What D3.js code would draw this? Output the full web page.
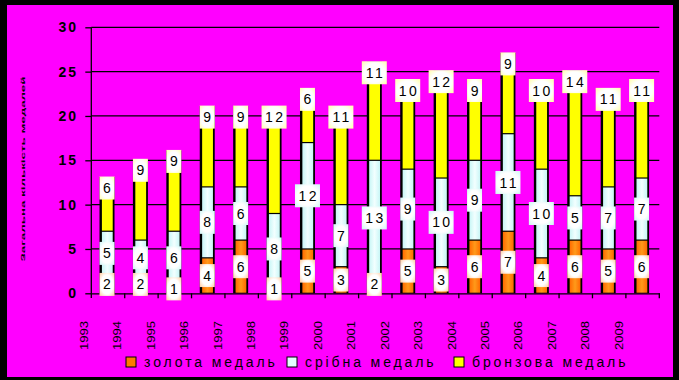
<!DOCTYPE html>
<html lang="uk">
<head>
<meta charset="utf-8">
<script src="https://d3js.org/d3.v7.min.js"></script>
<style>
body { margin: 0; background: #000; }
svg text { font-family: "Liberation Sans", Arial, sans-serif; fill: #000; }
</style>
</head>
<body>
<script>
// data
var years = ["1993","1994","1995","1996","1997","1998","1999","2000","2001","2002","2003","2004","2005","2006","2007","2008","2009"];
var gold = [2, 2, 1, 4, 6, 1, 5, 3, 2, 5, 3, 6, 7, 4, 6, 5, 6];
var silver = [5, 4, 6, 8, 6, 8, 12, 7, 13, 9, 10, 9, 11, 10, 5, 7, 7];
var bronze = [6, 9, 9, 9, 9, 12, 6, 11, 11, 10, 12, 9, 9, 10, 14, 11, 11];
var yTicks = [0, 5, 10, 15, 20, 25, 30];
var seriesNames = ["золота медаль", "срібна медаль", "бронзова медаль"];
var yTitle = "Загальна кількість медалей";

var width = 679, height = 380;

var svg = d3.select("body").append("svg")
  .attr("width", width)
  .attr("height", height);

// gradients
var defs = svg.append("defs");
function hGrad(id, edge, mid) {
  var g = defs.append("linearGradient").attr("id", id);
  g.append("stop").attr("offset", "0%").attr("stop-color", edge);
  g.append("stop").attr("offset", "50%").attr("stop-color", mid);
  g.append("stop").attr("offset", "100%").attr("stop-color", edge);
}
hGrad("gGold", "#ff6a00", "#ff9a1a");
hGrad("gSilver", "#c8f6f6", "#f2ffff");
hGrad("gBronze", "#ffff00", "#ffff00");
function rGrad(id, edge) {
  var g = defs.append("radialGradient").attr("id", id).attr("r", "75%");
  g.append("stop").attr("offset", "0%").attr("stop-color", "#ffffff");
  g.append("stop").attr("offset", "55%").attr("stop-color", "#ffffff");
  g.append("stop").attr("offset", "100%").attr("stop-color", edge);
}
rGrad("lGold", "#ffc08a");
rGrad("lSilver", "#c6f4f4");
rGrad("lBronze", "#ffff9a");

var barFills = ["url(#gGold)", "url(#gSilver)", "url(#gBronze)"];
var labelFills = ["url(#lGold)", "url(#lSilver)", "url(#lBronze)"];
var legendFills = ["#ff7a00", "#e4ffff", "#ffff00"];

// frame
svg.append("rect").attr("width", width).attr("height", height).attr("fill", "#000");
svg.append("rect").attr("x", 7).attr("y", 5).attr("width", 666).attr("height", 372).attr("fill", "#ff00ff");

var x = d3.scaleBand().domain(years).range([91.3, 659.3]);
var y = d3.scaleLinear().domain([0, 30]).range([293.3, 27.3]);
var bw = x.bandwidth();
var barW = 15;
function cx(yr) { return x(yr) + bw / 2 - 1; }

// gridlines
svg.append("g").selectAll("line")
  .data(yTicks.slice(1))
  .enter().append("line")
  .attr("x1", 91.3).attr("x2", 659.3)
  .attr("y1", function(d) { return y(d); })
  .attr("y2", function(d) { return y(d); })
  .attr("stroke", "#000").attr("stroke-width", 1.3);

// y axis
var yAxis = d3.axisLeft(y).tickValues(yTicks).tickSize(6).tickPadding(10).tickSizeOuter(0);
var gy = svg.append("g").attr("transform", "translate(91.3,0)").call(yAxis);
gy.select(".domain").remove();
gy.selectAll("line").attr("stroke", "#000").attr("stroke-width", 1.3);
gy.selectAll("text")
  .attr("font-size", 14)
  .attr("font-weight", "bold")
  .attr("letter-spacing", "2px")
  .attr("x", -13.3)
  .style("font-family", "'Liberation Sans', Arial, sans-serif");
svg.append("line").attr("x1", 91.3).attr("x2", 91.3).attr("y1", 27.3).attr("y2", 298)
  .attr("stroke", "#000").attr("stroke-width", 1.3);

// x axis line and ticks at band edges
var xAxis = d3.axisBottom(x).tickSize(5).tickFormat("").tickSizeOuter(0);
var gx = svg.append("g").attr("transform", "translate(0,293.3)").call(xAxis);
gx.select(".domain").attr("stroke", "#000").attr("stroke-width", 1.3);
gx.selectAll(".tick line")
  .attr("transform", "translate(" + (bw / 2) + ",0)")
  .attr("stroke", "#000").attr("stroke-width", 1.3);

// stacked bars
var rows = years.map(function(yr, i) {
  return { year: yr, gold: gold[i], silver: silver[i], bronze: bronze[i] };
});
var stack = d3.stack().keys(["gold", "silver", "bronze"]);
var layers = stack(rows);

var bars = svg.append("g");
// black body (3D side)
bars.selectAll("rect.body")
  .data(layers[2])
  .enter().append("rect")
  .attr("class", "body")
  .attr("x", function(d) { return cx(d.data.year) - barW / 2; })
  .attr("y", function(d) { return y(d[1]) - 1; })
  .attr("width", barW)
  .attr("height", function(d) { return y(0) - y(d[1]) + 1; })
  .attr("fill", "#000");

layers.forEach(function(layer, k) {
  bars.selectAll("rect.seg" + k)
    .data(layer)
    .enter().append("rect")
    .attr("class", "seg" + k)
    .attr("x", function(d) { return cx(d.data.year) - barW / 2 + 2.4; })
    .attr("y", function(d) { return y(d[1]) + 0.6; })
    .attr("width", barW - 4.2)
    .attr("height", function(d) { return Math.max(0, y(d[0]) - y(d[1]) - 1.2); })
    .attr("fill", barFills[k]);
});

// value labels
var labels = svg.append("g");
layers.forEach(function(layer, k) {
  var g = labels.selectAll("g.lab" + k)
    .data(layer)
    .enter().append("g")
    .attr("class", "lab" + k)
    .attr("transform", function(d) {
      var ly = k === 2 ? y(d[1]) + 10 : y((d[0] + d[1]) / 2);
      return "translate(" + cx(d.data.year) + "," + ly + ")";
    });
  g.append("rect")
    .attr("x", function(d) { return (d[1] - d[0]) >= 10 ? -12.5 : -7.5; })
    .attr("y", -11.5)
    .attr("width", function(d) { return (d[1] - d[0]) >= 10 ? 25 : 15; })
    .attr("height", 23)
    .attr("fill", labelFills[k]);
  g.append("text")
    .attr("text-anchor", "middle")
    .attr("dy", "0.36em")
    .attr("dx", function(d) { return (d[1] - d[0]) >= 10 ? 1.2 : 0; })
    .attr("font-size", 14)
    .attr("letter-spacing", function(d) { return (d[1] - d[0]) >= 10 ? "2.4px" : "0px"; })
    .text(function(d) { return d[1] - d[0]; });
});

// year labels (rotated, offset left of the bars as in the original)
svg.append("g").selectAll("text")
  .data(years)
  .enter().append("text")
  .attr("transform", function(d) {
    return "translate(" + (x(d) + bw / 2 - 20) + ",350) rotate(-90)";
  })
  .attr("font-size", 10)
  .attr("textLength", 29)
  .attr("lengthAdjust", "spacingAndGlyphs")
  .text(function(d) { return d; });

// y title
svg.append("text")
  .attr("transform", "translate(25,169) rotate(-90)")
  .attr("text-anchor", "middle")
  .attr("font-size", 6)
  .attr("font-weight", "bold")
  .attr("textLength", 185)
  .attr("lengthAdjust", "spacingAndGlyphs")
  .text(yTitle);

// legend
var legendX = [126, 287, 454];
var leg = svg.append("g").selectAll("g")
  .data(seriesNames)
  .enter().append("g")
  .attr("transform", function(d, i) { return "translate(" + legendX[i] + ",357)"; });
leg.append("rect")
  .attr("width", 10).attr("height", 10)
  .attr("fill", function(d, i) { return legendFills[i]; })
  .attr("stroke", "#000").attr("stroke-width", 1);
leg.append("text")
  .attr("x", 18).attr("y", 9.6)
  .attr("font-size", 14)
  .attr("letter-spacing", "2.9px")
  .text(function(d) { return d; });
</script>
</body>
</html>
